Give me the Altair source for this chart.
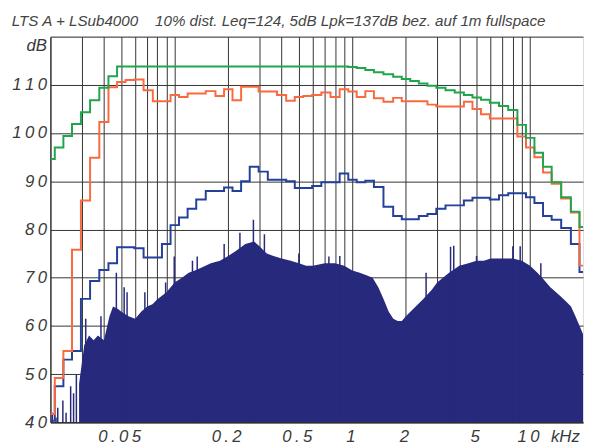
import altair as alt
import pandas as pd

# ---------------- data ----------------
title_txt = ("LTS A + LSub4000\u00a0\u00a0\u00a0 10% dist. Leq=124, 5dB Lpk=137dB "
             "bez. auf 1m fullspace")

# 1/6-octave band centres, kHz
band_khz = [0.020, 0.0224, 0.025, 0.028, 0.0315, 0.0355, 0.040, 0.045, 0.050, 0.056,
            0.063, 0.071, 0.080, 0.090, 0.100, 0.112, 0.125, 0.140, 0.160, 0.180,
            0.200, 0.224, 0.250, 0.280, 0.315, 0.355, 0.400, 0.450, 0.500, 0.560,
            0.630, 0.710, 0.800, 0.900, 1.00, 1.12, 1.25, 1.40, 1.60, 1.80,
            2.00, 2.24, 2.50, 2.80, 3.15, 3.55, 4.00, 4.50, 5.00, 5.60,
            6.30, 7.10, 8.00, 9.00, 10.0, 11.2, 12.5, 14.0, 16.0, 18.0, 20.0]

green_db = [94.6, 97.0, 99.4, 101.9, 104.3, 106.8, 109.4, 111.8, 113.8, 113.8,
            113.8, 113.8, 113.8, 113.8, 113.8, 113.8, 113.8, 113.8, 113.8, 113.8,
            113.8, 113.8, 113.8, 113.8, 113.8, 113.8, 113.8, 113.8, 113.8, 113.8,
            113.8, 113.8, 113.8, 113.8, 113.7, 113.5, 113.1, 112.6, 112.2, 111.7,
            111.2, 110.8, 110.3, 109.8, 109.4, 108.9, 108.4, 107.9, 107.4, 106.9,
            106.3, 105.6, 104.8, 101.7, 99.0, 95.9, 93.0, 89.8, 86.7, 83.7, 80.5]

orange_db = [41.7, 49.2, 54.8, 75.8, 86.0, 94.9, 102.3, 109.5, 110.6, 111.0,
             111.1, 108.9, 106.6, 106.6, 107.9, 107.5, 108.2, 108.2, 108.7, 107.7,
             109.1, 106.8, 109.6, 109.6, 108.6, 108.6, 107.9, 106.7, 107.5, 107.7,
             107.9, 108.4, 107.5, 109.1, 108.6, 107.5, 108.7, 107.2, 106.5, 107.3,
             106.6, 106.6, 106.6, 105.9, 105.5, 105.5, 105.5, 106.5, 105.0, 103.9,
             103.0, 103.0, 103.0, 99.3, 97.0, 95.0, 91.8, 89.5, 86.4, 83.5, 72.5]

blue_db = [40.3, 47.5, 53.0, 54.8, 65.6, 69.3, 71.6, 73.0, 76.3, 76.3,
           76.1, 74.2, 74.2, 77.0, 80.9, 82.5, 84.3, 86.2, 88.0, 88.0,
           88.7, 88.0, 90.0, 93.0, 92.0, 90.3, 90.3, 90.0, 88.6, 88.6,
           89.0, 89.8, 89.8, 91.6, 90.3, 89.8, 90.1, 88.8, 84.7, 82.8,
           82.1, 82.1, 82.8, 83.2, 84.3, 85.0, 85.0, 86.0, 86.6, 86.6,
           86.2, 87.1, 87.5, 87.5, 86.7, 85.5, 82.8, 82.0, 80.3, 77.0, 71.2]

# FFT spectrum, upper envelope of the dense part
spec_khz = [0.029, 0.031, 0.033, 0.035, 0.037, 0.040, 0.043, 0.045, 0.048, 0.050,
            0.055, 0.060, 0.065, 0.070, 0.075, 0.080, 0.090, 0.100, 0.110, 0.120,
            0.130, 0.140, 0.160, 0.180, 0.200, 0.220, 0.250, 0.280, 0.300, 0.330,
            0.360, 0.400, 0.450, 0.500, 0.550, 0.600, 0.700, 0.800, 0.900, 1.00,
            1.10, 1.20, 1.30, 1.40, 1.50, 1.60, 1.70, 1.80, 1.90, 2.00,
            2.20, 2.50, 2.80, 3.00, 3.50, 4.00, 4.50, 5.00, 5.50, 6.00,
            7.00, 8.00, 9.00, 10.0, 11.0, 12.0, 13.0, 14.0, 15.0, 16.0,
            17.0, 18.0, 19.0, 20.0]
spec_db = [48.0, 56.0, 58.0, 57.0, 58.0, 57.0, 62.0, 64.0, 63.5, 63.0,
           62.0, 61.5, 63.0, 64.0, 64.5, 65.5, 67.0, 69.0, 70.0, 71.0,
           71.5, 72.0, 73.0, 73.5, 74.5, 75.5, 77.0, 77.5, 76.5, 75.0,
           74.5, 74.0, 73.5, 73.0, 72.5, 72.5, 73.0, 73.0, 72.5, 71.5,
           71.0, 70.5, 70.0, 68.0, 65.5, 63.0, 61.5, 61.0, 61.0, 62.0,
           63.5, 65.5, 67.5, 69.0, 71.0, 72.5, 73.0, 73.5, 73.5, 74.0,
           74.0, 74.0, 73.5, 72.5, 71.0, 69.5, 68.0, 67.0, 66.0, 65.0,
           64.0, 62.0, 60.0, 58.0]

# single spectral lines sticking out of the envelope
spike_khz = [0.0205, 0.0215, 0.022, 0.0235, 0.0245, 0.026, 0.027, 0.028, 0.0316, 0.0385,
             0.047, 0.052, 0.054, 0.068, 0.089, 0.0995, 0.126, 0.134, 0.190, 0.233,
             0.2775, 0.320, 0.500, 0.738, 0.850, 2.6, 3.57, 3.72, 5.0, 8.0,
             8.8, 11.5]
spike_db = [42.0, 41.0, 43.0, 44.5, 42.0, 47.5, 46.0, 49.8, 61.5, 62.0,
            71.0, 68.0, 67.0, 67.0, 69.0, 74.4, 73.5, 74.4, 77.0, 79.3,
            82.0, 79.0, 75.0, 74.4, 74.5, 71.0, 76.4, 76.6, 74.5, 76.5,
            76.5, 73.0]

grid_khz = [0.03, 0.04, 0.05, 0.06, 0.07, 0.08, 0.09,
            0.1, 0.2, 0.3, 0.4, 0.5, 0.6, 0.7, 0.8, 0.9,
            1, 2, 3, 4, 5, 6, 7, 8, 9, 10]
xlabel_khz = [0.05, 0.2, 0.5, 1, 2, 5, 10]
xlabel_txt = ["0.05", "0.2", "0.5", "1", "2", "5", "10"]
y_ticks = [40, 50, 60, 70, 80, 90, 100, 110, 120]
ylabel_db = [40, 50, 60, 70, 80, 90, 100, 110]
ylabel_txt = ["40", "50", "60", "70", "80", "90", "100", "110"]

X_DOMAIN = [0.02, 19.86]
Y_DOMAIN = [40, 120]

# ---------------- styling ----------------
NAVY = "#26297c"
BLUE = "#24409a"
ORANGE = "#fb6a3e"
GREEN = "#1fa64c"
GRID = "#333333"
TXT = "#3a3a3a"
FONT = "Liberation Sans"
THIN = "\u2009"


def spaced(s):
    return THIN.join(list(s))


def label_expr(values, texts):
    parts = [f"abs(datum.value - {v}) < {abs(v) * 1e-6} ? '{spaced(t)}'"
             for v, t in zip(values, texts)]
    return " : ".join(parts) + " : ''"


xs = alt.Scale(type="log", domain=X_DOMAIN, nice=False)
ys = alt.Scale(domain=Y_DOMAIN, nice=False, zero=False)

x_axis = alt.Axis(
    values=grid_khz, grid=True, gridColor=GRID, gridWidth=1, gridOpacity=1,
    ticks=False, tickSize=0, domain=True, domainColor=GRID, domainWidth=1.5,
    labelExpr=label_expr(xlabel_khz, xlabel_txt), labelFont=FONT,
    labelFontStyle="italic", labelFontSize=17, labelColor=TXT, labelPadding=6,
    labelOffset=-2, labelFlush=False, labelOverlap=False,
    title="kHz", titleX=507, titleY=6, titleAlign="left", titleBaseline="top",
    titleFont=FONT, titleFontStyle="italic", titleFontWeight="normal",
    titleFontSize=17, titleColor=TXT)

y_axis = alt.Axis(
    values=y_ticks, grid=True, gridColor=GRID, gridWidth=1, gridOpacity=1,
    ticks=False, tickSize=0, domain=True, domainColor=GRID, domainWidth=1.5,
    labelExpr=label_expr(ylabel_db, ylabel_txt), labelFont=FONT,
    labelFontStyle="italic", labelFontSize=17, labelColor=TXT, labelPadding=4,
    labelBaseline="middle", labelFlush=False, labelOverlap=False,
    title="dB", titleAngle=0, titleX=-4, titleY=9, titleAlign="right",
    titleBaseline="middle", titleFont=FONT, titleFontStyle="italic",
    titleFontWeight="normal", titleFontSize=17, titleColor=TXT)

spec_df = pd.DataFrame({"f": spec_khz, "db": spec_db})
spike_df = pd.DataFrame({"f": spike_khz, "db": spike_db})
band_df = pd.DataFrame({"f": band_khz, "green": green_db,
                        "orange": orange_db, "blue": blue_db})

X = alt.X("f:Q", scale=xs, axis=x_axis)


def Y(field):
    return alt.Y(f"{field}:Q", scale=ys, axis=y_axis)


spectrum = alt.Chart(spec_df).mark_area(color=NAVY, clip=True).encode(
    x=X, y=Y("db"), y2=alt.datum(40),
)

spikes = alt.Chart(spike_df).mark_rule(color=NAVY, strokeWidth=1.5, clip=True).encode(
    x=X, y=Y("db"), y2=alt.datum(40),
)


def step_line(field, color):
    return alt.Chart(band_df).mark_line(
        interpolate="step", color=color, strokeWidth=2, clip=True
    ).encode(x=X, y=Y(field))


chart = alt.layer(
    spectrum, spikes,
    step_line("blue", BLUE),
    step_line("orange", ORANGE),
    step_line("green", GREEN),
).properties(
    width=540, height=391,
    autosize=alt.AutoSizeParams(type="none"),
    padding={"left": 43, "top": 26, "right": 1, "bottom": 22},
    title=alt.TitleParams(title_txt, anchor="start", offset=6, dy=8, font=FONT,
                          fontSize=15.4, fontStyle="italic", fontWeight="normal",
                          color="#444444"),
).configure_view(strokeWidth=0).configure(background="white")

chart.save("out.html", embed_options={"renderer": "svg", "actions": False})
